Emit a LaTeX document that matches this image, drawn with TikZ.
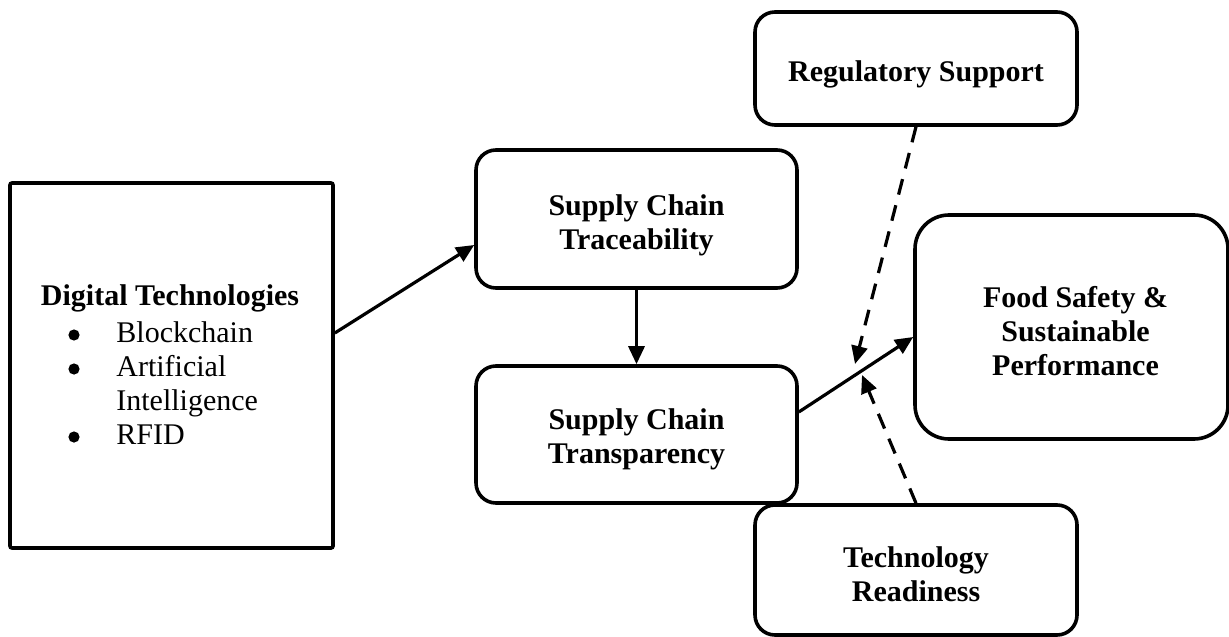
\documentclass[tikz,border=0pt]{standalone}
\usepackage{fontspec}
\setmainfont{Liberation Serif}
\usetikzlibrary{arrows.meta}
\begin{document}
\begin{tikzpicture}[x=0.5pt,y=-0.5pt,
  box/.style={draw, line width=1.8pt, rounded corners=10pt, inner sep=0pt},
  title/.style={align=center, inner sep=0pt, font=\fontsize{15}{17}\selectfont\bfseries},
  txt/.style={inner sep=0pt, font=\fontsize{15}{17}\selectfont},
  dot/.style={circle, fill, inner sep=0pt, minimum size=5.6pt},
  link/.style={line width=1.6pt, -{Triangle[length=9pt,width=8pt]}},
  modlink/.style={link, dash pattern=on 8pt off 5.5pt},
  ]
\useasboundingbox (0,0) rectangle (1229,636);

% boxes
\node[box, rounded corners=1pt, minimum width=161.5pt, minimum height=182.5pt] (dig) at (171.5,365.5) {};
\node[box, minimum width=160.5pt, minimum height=69pt] (trace) at (636.5,219) {};
\node[box, minimum width=160.5pt, minimum height=68.5pt] (transp) at (636.5,434.5) {};
\node[box, minimum width=161pt, minimum height=56.5pt] (reg) at (916,68.5) {};
\node[box, rounded corners=17pt, minimum width=156.5pt, minimum height=112pt] (food) at (1071.5,327) {};
\node[box, minimum width=161pt, minimum height=65pt] (tech) at (916,570) {};

% box titles
\node[title] (traceT) at ([yshift=-3pt]trace.center) {Supply Chain\\Traceability};
\node[title] (transpT) at ([yshift=-2.5pt]transp.center) {Supply Chain\\Transparency};
\node[title] (regT) at ([yshift=-3pt]reg.center) {Regulatory Support};
\node[title] (foodT) at ([xshift=2pt,yshift=-2pt]food.center) {Food Safety \&\\Sustainable\\Performance};
\node[title] (techT) at ([yshift=-2pt]tech.center) {Technology\\Readiness};

% list of digital technologies
\node[title, anchor=base] (dtitle) at (170,305) {Digital Technologies};
\node[dot] (bul1) at (74,335) {};
\node[dot] (bul2) at (74,369) {};
\node[dot] (bul3) at (74,437) {};
\node[txt, anchor=base west] (it1) at (116,342) {Blockchain};
\node[txt, anchor=base west] (it2) at (116,376) {Artificial};
\node[txt, anchor=base west] (it2b) at (116,410) {Intelligence};
\node[txt, anchor=base west] (it3) at (116,444) {RFID};

% arrow ends of the moderating links
\coordinate (regtip) at (855,364);
\coordinate (techtip) at (862,375);

% connectors
\draw[link] ([yshift=16.25pt]dig.east) -- ([yshift=-13pt]trace.west);
\draw[link] (trace.south) -- (transp.north);
\draw[link] ([yshift=11.25pt]transp.east) -- ([yshift=-5pt]food.west);
\draw[modlink] (reg.south) -- (regtip);
\draw[modlink] (tech.north) -- (techtip);
\end{tikzpicture}
\end{document}
